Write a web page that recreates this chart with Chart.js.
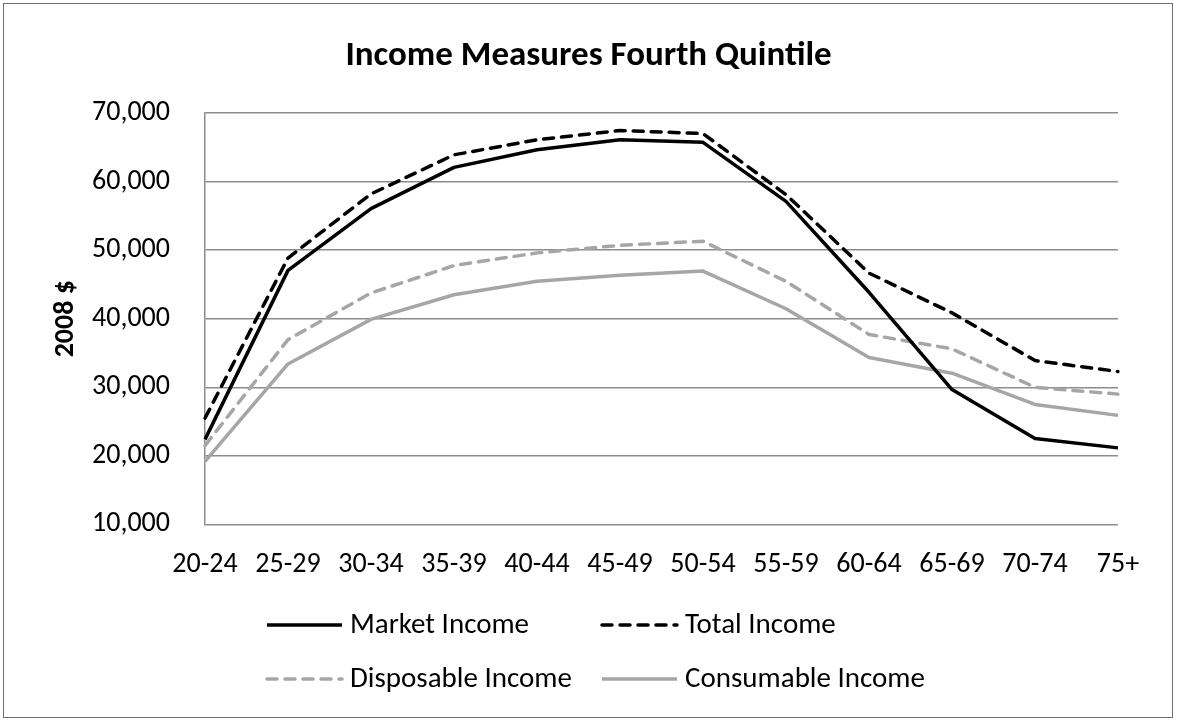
<!DOCTYPE html>
<html>
<head>
<meta charset="utf-8">
<script src="https://cdn.jsdelivr.net/npm/chart.js@4.4.1/dist/chart.umd.min.js"></script>
<style>
  html, body { margin: 0; padding: 0; background: #ffffff; }
  #wrap { position: relative; width: 1177px; height: 721px; }
  #frame { position: absolute; left: 3px; top: 3px; width: 1168px; height: 713px; border: 1px solid #6f6f6f; pointer-events: none; }
  canvas { display: block; }
</style>
</head>
<body>
<div id="wrap">
  <canvas id="c" width="1177" height="721"></canvas>
  <div id="frame"></div>
</div>
<script>
const categories = ['20-24', '25-29', '30-34', '35-39', '40-44', '45-49', '50-54', '55-59', '60-64', '65-69', '70-74', '75+'];
const marketIncome = [22400, 47050, 56050, 62070, 64650, 66110, 65720, 57110, 43850, 29660, 22520, 21160];
const totalIncome = [25500, 48850, 58200, 63900, 66100, 67450, 67000, 58100, 46650, 40850, 33900, 32300];
const disposableIncome = [21500, 36950, 43750, 47750, 49600, 50700, 51300, 45450, 37700, 35600, 30000, 29000];
const consumableIncome = [19200, 33400, 39900, 43500, 45450, 46350, 46950, 41450, 34350, 32050, 27500, 25900];
const seriesNames = ['Market Income', 'Total Income', 'Disposable Income', 'Consumable Income'];
const yTicks = [10000, 20000, 30000, 40000, 50000, 60000, 70000];
const chartTitle = 'Income Measures Fourth Quintile';
const yAxisTitle = '2008 $';

const FONT = "Carlito, Calibri, Lato, 'Open Sans', sans-serif";
const BLACK = '#000000';
const GRAY = '#a6a6a6';
const DASH = [10, 8];

const legendPlugin = {
  id: 'gridLegend',
  afterDraw(chart) {
    const ctx = chart.ctx;
    const colX = [265, 600];
    const rowY = [625, 679];
    const lineLen = 77;
    ctx.save();
    chart.data.datasets.forEach((ds, i) => {
      const x = colX[i % 2];
      const y = rowY[Math.floor(i / 2)];
      ctx.beginPath();
      ctx.lineWidth = ds.borderWidth;
      ctx.strokeStyle = ds.borderColor;
      ctx.lineCap = ds.borderCapStyle || 'butt';
      ctx.setLineDash(ds.borderDash || []);
      ctx.moveTo(x + 2, y);
      ctx.lineTo(x + lineLen, y);
      ctx.stroke();
      ctx.setLineDash([]);
      ctx.fillStyle = '#000000';
      ctx.font = '29px ' + FONT;
      ctx.textBaseline = 'middle';
      ctx.textAlign = 'left';
      ctx.fillText(ds.label, x + lineLen + 8, y + 1);
    });
    ctx.restore();
  }
};

function ds(label, data, color, dash) {
  return {
    label: label,
    data: data,
    yAxisID: 'y',
    borderColor: color,
    backgroundColor: color,
    borderWidth: 3.5,
    borderDash: dash,
    borderCapStyle: dash.length ? 'round' : 'butt',
    borderJoinStyle: 'round',
    pointRadius: 0,
    pointHoverRadius: 0,
    tension: 0,
    fill: false
  };
}

new Chart(document.getElementById('c'), {
  type: 'line',
  data: {
    labels: categories,
    datasets: [
      ds(seriesNames[0], marketIncome, BLACK, []),
      ds(seriesNames[1], totalIncome, BLACK, DASH),
      ds(seriesNames[2], disposableIncome, GRAY, DASH),
      ds(seriesNames[3], consumableIncome, GRAY, [])
    ]
  },
  options: {
    responsive: false,
    animation: false,
    devicePixelRatio: 1,
    layout: { padding: { left: 0, right: 0, top: 0, bottom: 115 } },
    plugins: {
      legend: { display: false },
      tooltip: { enabled: false },
      title: {
        display: true,
        text: chartTitle,
        color: '#000000',
        font: { family: FONT, size: 35, weight: 'bold' },
        padding: { top: 35, bottom: 36 }
      }
    },
    scales: {
      x: {
        type: 'category',
        offset: false,
        grid: { display: false, drawTicks: false },
        border: { display: false },
        ticks: {
          color: '#000000',
          font: { family: FONT, size: 28 },
          padding: 24,
          maxRotation: 0,
          autoSkip: false
        }
      },
      y: {
        position: 'left',
        min: yTicks[0],
        max: yTicks[yTicks.length - 1],
        afterFit(scale) { scale.width = 205; },
        afterBuildTicks(scale) { scale.ticks = yTicks.map(v => ({ value: v })); },
        grid: { color: '#8c8c8c', lineWidth: 1.5, drawTicks: false },
        border: { display: true, color: '#8c8c8c', width: 1.5 },
        ticks: {
          color: '#000000',
          font: { family: FONT, size: 28 },
          padding: 35,
          callback: (v) => Number(v).toLocaleString('en-US')
        },
        title: {
          display: true,
          text: yAxisTitle,
          color: '#000000',
          font: { family: FONT, size: 28, weight: 'bold' },
          padding: { top: 49, bottom: 0 }
        }
      },
      yRightSpace: {
        position: 'right',
        display: true,
        afterFit(scale) { scale.width = 59; },
        grid: { display: false, drawTicks: false },
        border: { display: false },
        ticks: { display: false }
      }
    }
  },
  plugins: [legendPlugin]
});
</script>
</body>
</html>
